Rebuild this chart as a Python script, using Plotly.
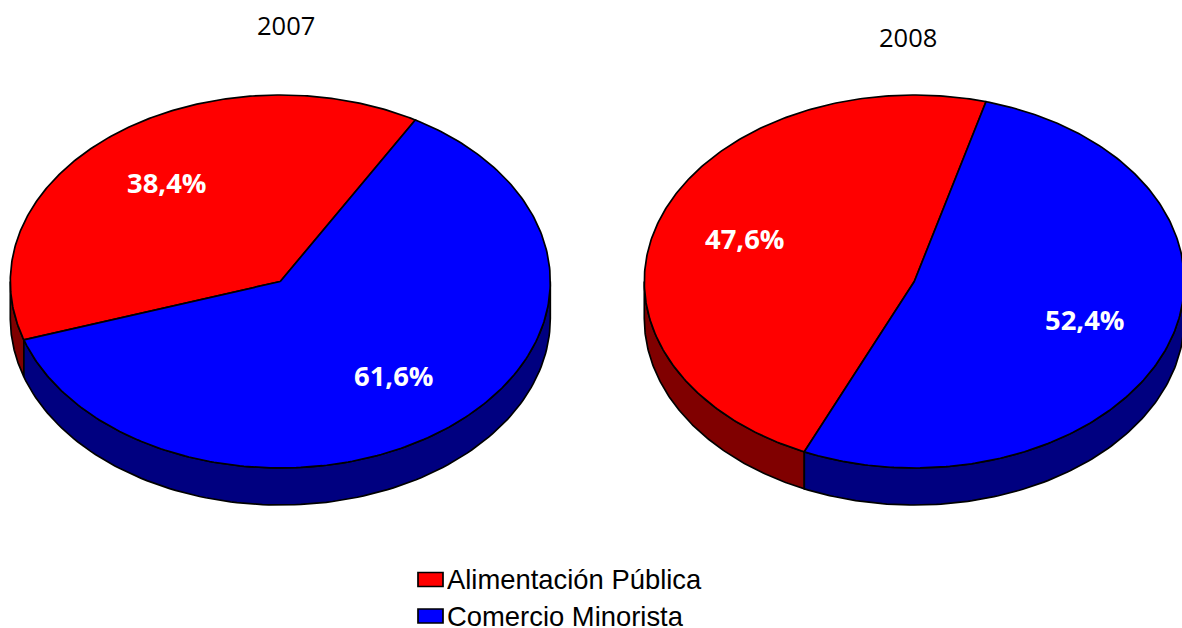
import numpy as np
import plotly.graph_objects as go

# ---- data ----
YEARS = ["2007", "2008"]
CATEGORIES = ["Alimentación Pública", "Comercio Minorista"]
VALUES_2007 = [38.4, 61.6]
VALUES_2008 = [47.6, 52.4]

# ---- styles / layout ----
W, H = 1182, 628
TOP_COLORS = ["#ff0000", "#0000ff"]
SIDE_COLORS = ["#800000", "#000080"]
CENTERS = [(280.3, 281.5), (914.3, 281.5)]
RX, RY, DEPTH = 270, 186.5, 37
END_OF_FIRST = [30.0, 15.4]      # clockwise-from-top angle where the first slice ends
LW = 1.7
TITLE_POS = [(286, 24.5), (908, 36.5)]
LABEL_POS = [[(166, 182.5), (393, 375.5)], [(744, 238.5), (1084, 319.5)]]
LEG_SWATCH_X = (418, 443)
LEG_SWATCH_Y = [579.5, 616]
LEG_TEXT_X = 446
LEG_TEXT_Y = [578.5, 615.5]
LEG_TEXT_H = 24


def pt(c, theta, dy=0.0):
    t = np.radians(theta)
    return c[0] + RX * np.sin(t), c[1] - RY * np.cos(t) + dy


fig = go.Figure()


def poly(xs, ys, fill):
    fig.add_trace(go.Scatter(x=xs, y=ys, mode="lines", fill="toself", fillcolor=fill,
                             line=dict(color="black", width=LW), hoverinfo="skip",
                             showlegend=False))


for c, vals, end_first in zip(CENTERS, [VALUES_2007, VALUES_2008], END_OF_FIRST):
    spans = []
    a = end_first - vals[0] * 3.6
    for v in vals:
        spans.append((a, a + v * 3.6))
        a += v * 3.6
    # side walls: only the front half of the rim is visible (90..270 deg clockwise from top)
    for (s, e), col in zip(spans, SIDE_COLORS):
        for shift in (-360, 0, 360):
            lo, hi = max(s + shift, 90), min(e + shift, 270)
            if hi > lo:
                th = np.linspace(lo, hi, 120)
                x1, y1 = pt(c, th)
                x2, y2 = pt(c, th[::-1], DEPTH)
                poly(list(x1) + list(x2) + [x1[0]], list(y1) + list(y2) + [y1[0]], col)
    # top faces
    for (s, e), col in zip(spans, TOP_COLORS):
        th = np.linspace(s, e, 240)
        x1, y1 = pt(c, th)
        poly([c[0]] + list(x1) + [c[0]], [c[1]] + list(y1) + [c[1]], col)

annotations = []
for yr, (x, y) in zip(YEARS, TITLE_POS):
    annotations.append(dict(x=x, y=y, text=yr, showarrow=False, xref="x", yref="y",
                            font=dict(family="Open Sans", size=25.5, color="black")))
for vals, poss in zip([VALUES_2007, VALUES_2008], LABEL_POS):
    for v, (x, y) in zip(vals, poss):
        annotations.append(dict(x=x, y=y, text="<b>" + f"{v:.1f}".replace(".", ",") + "%</b>",
                                showarrow=False, xref="x", yref="y",
                                font=dict(family="Open Sans", size=27.4, color="white")))
shapes = []
for cat, col, ys, yt in zip(CATEGORIES, TOP_COLORS, LEG_SWATCH_Y, LEG_TEXT_Y):
    shapes.append(dict(type="rect", xref="x", yref="y", x0=LEG_SWATCH_X[0], x1=LEG_SWATCH_X[1],
                       y0=ys - 7, y1=ys + 7, fillcolor=col, line=dict(color="black", width=1.7)))
    annotations.append(dict(x=LEG_TEXT_X, y=yt, text=cat, showarrow=False, xref="x", yref="y",
                            xanchor="left", height=LEG_TEXT_H, borderpad=0,
                            font=dict(family="Liberation Sans", size=27.4, color="black")))

fig.update_layout(
    width=W, height=H, margin=dict(l=0, r=0, t=0, b=0),
    paper_bgcolor="white", plot_bgcolor="white", showlegend=False,
    xaxis=dict(range=[0, W], visible=False, fixedrange=True),
    yaxis=dict(range=[H, 0], visible=False, fixedrange=True),
    annotations=annotations, shapes=shapes,
)
fig.write_html("out.html", config={"displayModeBar": False},
               post_script="document.body.style.margin='0';document.body.style.overflow='hidden';")
